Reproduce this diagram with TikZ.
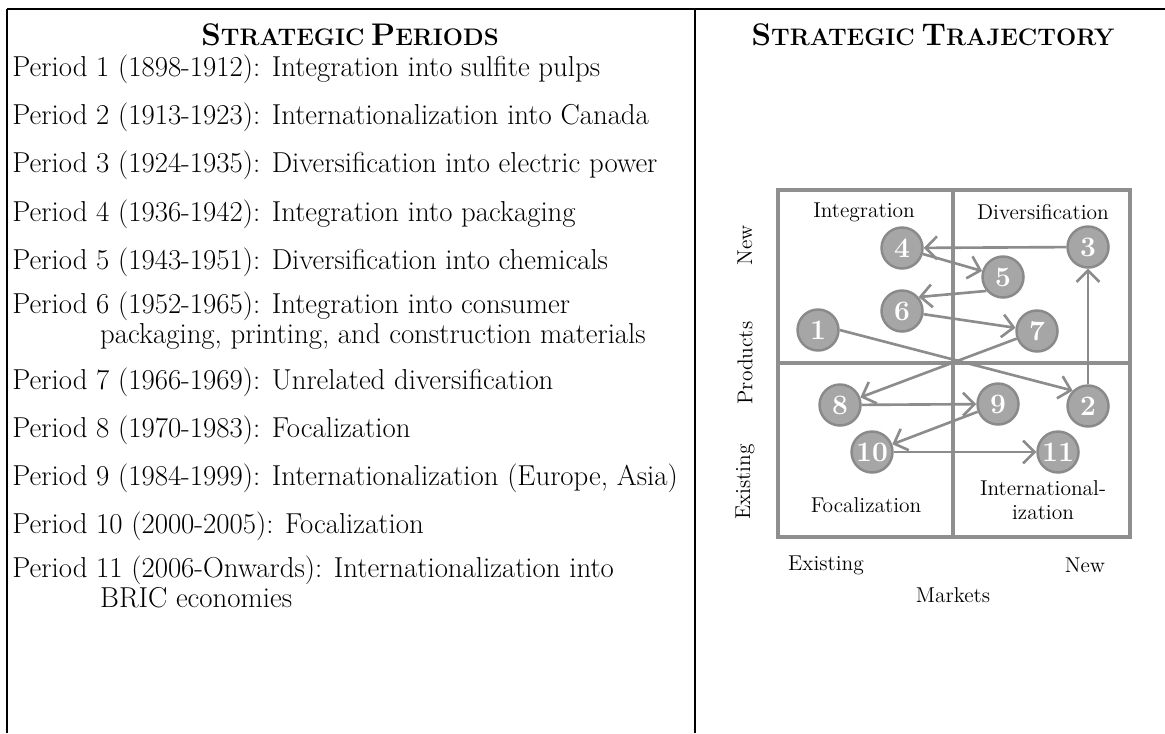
\documentclass[tikz,border=0pt]{standalone}
\usepackage{tikz}
\usetikzlibrary{arrows.meta, shadows}

\definecolor{grisgrille}{HTML}{8F8F8F}
\definecolor{grisbord}{HTML}{8A8A8A}
\definecolor{grisfond}{HTML}{A6A6A6}
\definecolor{grisfleche}{HTML}{8C8C8C}

% petites capitales simulees
\newcommand{\petcap}[2]{{\fontsize{17.8}{19}\selectfont #1}{\fontsize{13.6}{15}\selectfont #2}}
% texte des periodes, lignes serrees
\newcommand{\fontperiode}{\fontsize{16.4}{16.6}\selectfont\lineskiplimit=-100pt\relax}

\tikzset{
	titre/.style={anchor=base, inner sep=0pt, font=\bfseries},
	periode/.style={anchor=base west, inner sep=0pt, align=left, font=\fontperiode},
	etiq/.style={inner sep=0pt, font=\fontsize{12.2}{14}\selectfont},
	pastille/.style={circle, draw=grisbord, fill=grisfond, line width=1.4pt, minimum size=0.82cm, inner sep=0pt, text=white, font=\fontsize{16}{16}\selectfont\bfseries, drop shadow={opacity=0.2, shadow xshift=0.6pt, shadow yshift=-0.6pt}},
	fleche/.style={draw=grisfleche, line width=1.5pt, -{Straight Barb[length=6.5pt, width=13pt]}},
}

\begin{document}
\begin{tikzpicture}[x=0.02cm, y=-0.02cm]
				\useasboundingbox (0,0) rectangle (1165,733);
				% cadre du tableau
				\draw[line width=1.2pt] (7,9)--(1165,9);
				\draw[line width=1.2pt] (7,9)--(7,733);
				\draw[line width=1.2pt] (695,9)--(695,733);
				% titres
				\node[titre] (titreG) at (350,46) {\petcap{S}{TRATEGIC} \petcap{P}{ERIODS}};
				\node[titre] (titreD) at (933,46) {\petcap{S}{TRATEGIC} \petcap{T}{RAJECTORY}};
				% liste des periodes (ancre sur la derniere ligne)
				\node[periode] (p1) at (12,77) {Period 1 (1898-1912): Integration into sulfite pulps};
				\node[periode] (p2) at (12,125) {Period 2 (1913-1923): Internationalization into Canada};
				\node[periode] (p3) at (12,173) {Period 3 (1924-1935): Diversification into electric power};
				\node[periode] (p4) at (12,221) {Period 4 (1936-1942): Integration into packaging};
				\node[periode] (p5) at (12,269) {Period 5 (1943-1951): Diversification into chemicals};
				\node[periode] (p6) at (12,343) {Period 6 (1952-1965): Integration into consumer\\\hspace*{50pt}packaging, printing, and construction materials};
				\node[periode] (p7) at (12,389) {Period 7 (1966-1969): Unrelated diversification};
				\node[periode] (p8) at (12,437) {Period 8 (1970-1983): Focalization};
				\node[periode] (p9) at (12,485) {Period 9 (1984-1999): Internationalization (Europe, Asia)};
				\node[periode] (p10) at (12,533) {Period 10 (2000-2005): Focalization};
				\node[periode] (p11) at (12,607) {Period 11 (2006-Onwards): Internationalization into\\\hspace*{50pt}BRIC economies};
				% grille de la matrice
				\draw[grisgrille, line width=1.8pt] (778,190) rectangle (1130,537);
				\draw[grisgrille, line width=1.8pt] (953,190)--(953,537);
				\draw[grisgrille, line width=1.8pt] (778,363)--(1130,363);
				% etiquettes des cases
				\node[etiq] (integ) at (864,212) {Integration};
				\node[etiq] (diver) at (1043,212) {Diversification};
				\node[etiq] (focal) at (866,505) {Focalization};
				\node[etiq, align=center] (inter) at (1043,500) {International-\\ization};
				% axes
				\node[etiq] (mexist) at (826,565) {Existing};
				\node[etiq] (mnew) at (1085,565) {New};
				\node[etiq] (marches) at (953,595) {Markets};
				\node[etiq, rotate=90] (pnew) at (745,245) {New};
				\node[etiq, rotate=90] (produits) at (745,363) {Products};
				\node[etiq, rotate=90] (pexist) at (745,482) {Existing};
				% dessin des noeuds
				\node[pastille] (n1) at (818,330) {1};
				\node[pastille] (n2) at (1088,406) {2};
				\node[pastille] (n3) at (1088,247) {3};
				\node[pastille] (n4) at (902,248) {4};
				\node[pastille] (n5) at (1003,277) {5};
				\node[pastille] (n6) at (902,311) {6};
				\node[pastille] (n7) at (1037,331) {7};
				\node[pastille] (n8) at (840,405) {8};
				\node[pastille] (n9) at (998,404) {9};
				\node[pastille] (n10) at (872,452) {10};
				\node[pastille] (n11) at (1058,452) {11};
				% trajectoire
				\draw[fleche] (n1.east) -- (n2.north west);
				\draw[fleche] (n2) -- (n3);
				\draw[fleche] (n3) -- (n4);
				\draw[fleche] (n4) -- (n5);
				\draw[fleche] (n5.220) -- (n6.40);
				\draw[fleche] (n6) -- (n7);
				\draw[fleche] (n7) -- (n8);
				\draw[fleche] (n8) -- (n9);
				\draw[fleche] (n9) -- (n10);
				\draw[fleche] (n10) -- (n11);
\end{tikzpicture}
\end{document}
